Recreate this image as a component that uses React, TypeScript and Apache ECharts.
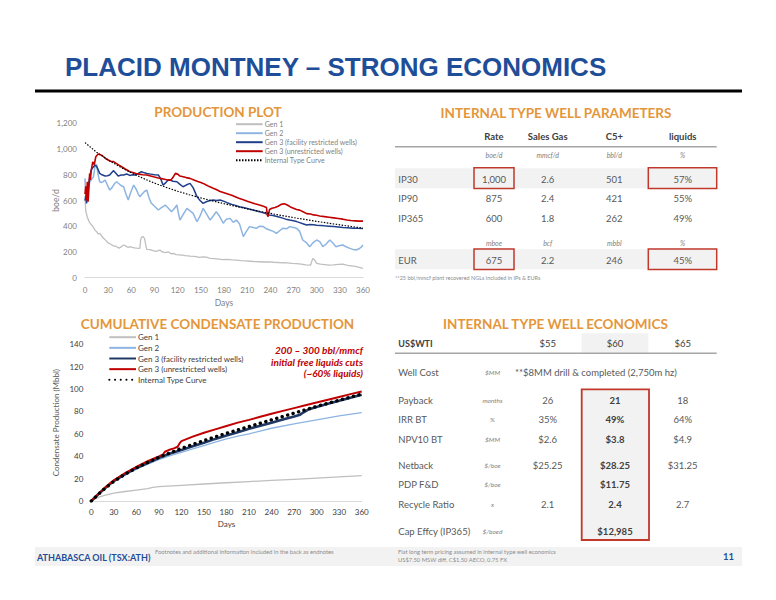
import React, { useEffect, useRef } from "react";
import * as echarts from "echarts";

// ---------- Text ----------
const PAGE_TITLE = "PLACID MONTNEY – STRONG ECONOMICS";
const PROD_TITLE = "PRODUCTION PLOT";
const CUM_TITLE = "CUMULATIVE CONDENSATE PRODUCTION";
const PARAM_TITLE = "INTERNAL TYPE WELL PARAMETERS";
const ECON_TITLE = "INTERNAL TYPE WELL ECONOMICS";

const seriesNames = [
  "Gen 1",
  "Gen 2",
  "Gen 3 (facility restricted wells)",
  "Gen 3 (unrestricted wells)",
  "Internal Type Curve",
];

// ---------- Production plot (boe/d vs days) ----------
const gen1Prod: [number, number][] = [
  [0, 610], [1, 520], [3, 470], [5, 440], [7, 420], [10, 400], [13, 370], [15, 358], [17, 340], [19, 345],
  [21, 330], [24, 306], [27, 290], [30, 270], [33, 262], [36, 250], [39, 245], [41, 241], [44, 230], [47, 240],
  [50, 254], [53, 245], [56, 235], [58, 241], [61, 236], [64, 232], [67, 230], [71, 228], [72, 290], [73, 314],
  [75, 320], [77, 306], [79, 245], [80, 220], [84, 218], [88, 210], [92, 205], [97, 215], [100, 200], [104, 195],
  [108, 200], [112, 185], [114, 189], [118, 180], [122, 178], [126, 175], [130, 172], [136, 168], [142, 165],
  [148, 158], [153, 162], [157, 160], [162, 150], [168, 148], [173, 145], [179, 140], [185, 142], [190, 138],
  [196, 136], [202, 132], [208, 130], [214, 128], [220, 125], [226, 124], [232, 122], [238, 123], [244, 120],
  [250, 118], [256, 116], [262, 115], [268, 112], [274, 110], [280, 105], [286, 100], [292, 97], [295, 150],
  [297, 140], [300, 112], [305, 105], [310, 102], [316, 98], [322, 100], [328, 103], [334, 105], [340, 96],
  [345, 92], [350, 88], [355, 80], [360, 73],
];
const gen2Prod: [number, number][] = [
  [0, 772], [1, 640], [2, 604], [4, 680], [6, 740], [8, 760], [11, 785], [13, 870], [15, 880], [17, 800],
  [19, 746], [22, 740], [26, 759], [29, 720], [32, 681], [35, 700], [38, 730], [41, 746], [44, 730], [47, 715],
  [50, 707], [53, 650], [56, 604], [59, 660], [63, 720], [66, 690], [69, 650], [71, 630], [74, 650], [77, 670],
  [80, 681], [83, 620], [86, 578], [90, 555], [95, 526], [99, 545], [104, 565], [108, 540], [112, 513], [116, 540],
  [119, 565], [121, 500], [123, 448], [127, 490], [132, 539], [136, 520], [140, 500], [145, 435], [149, 480],
  [153, 539], [157, 500], [162, 448], [166, 480], [170, 513], [174, 480], [179, 423], [183, 455], [188, 461],
  [192, 430], [196, 448], [200, 420], [205, 319], [209, 360], [213, 397], [218, 390], [222, 384], [226, 400],
  [231, 397], [235, 380], [239, 371], [244, 360], [248, 345], [252, 365], [256, 384], [261, 380], [265, 397],
  [270, 390], [274, 384], [278, 360], [282, 293], [287, 270], [291, 241], [295, 270], [300, 293], [304, 280],
  [308, 241], [312, 260], [317, 293], [321, 270], [325, 241], [330, 250], [334, 254], [338, 240], [343, 228],
  [347, 220], [351, 215], [355, 225], [358, 240], [360, 254],
];
const gen3FacProd: [number, number][] = [
  [0, 600], [1, 640], [2, 578], [3, 620], [4, 700], [6, 780], [8, 837], [10, 855], [13, 876], [15, 865],
  [17, 840], [19, 811], [22, 800], [26, 790], [29, 792], [32, 798], [35, 820], [37, 832], [40, 812], [43, 790],
  [47, 798], [50, 798], [54, 806], [58, 795], [62, 800], [65, 798], [69, 810], [73, 824], [77, 815], [80, 810],
  [85, 805], [90, 800], [95, 798], [98, 770], [101, 720], [104, 735], [107, 755], [110, 759], [114, 750],
  [119, 746], [123, 725], [127, 707], [131, 720], [136, 733], [140, 700], [145, 630], [149, 600], [153, 578],
  [157, 590], [161, 598], [166, 604], [170, 600], [175, 604], [181, 591], [185, 580], [190, 570], [195, 562],
  [200, 552], [205, 545], [210, 538], [215, 530], [220, 522], [226, 512], [231, 505], [235, 496], [238, 488],
  [242, 485], [246, 480], [250, 474], [255, 465], [260, 455], [265, 448], [270, 442], [274, 436], [278, 428],
  [283, 418], [287, 410], [291, 414], [296, 411], [300, 408], [305, 406], [310, 403], [316, 400], [322, 397],
  [328, 394], [334, 390], [340, 388], [347, 385], [353, 384], [360, 383],
];
const gen3UnrProd: [number, number][] = [
  [0, 650], [1, 710], [2, 600], [3, 745], [4, 590], [5, 690], [6, 810], [7, 760], [8, 830], [10, 900],
  [12, 880], [14, 940], [17, 961], [20, 955], [22, 950], [24, 940], [27, 925], [30, 915], [33, 905], [37, 902],
  [40, 890], [44, 875], [48, 860], [52, 845], [55, 835], [58, 824], [62, 818], [66, 810], [70, 805], [75, 800],
  [80, 798], [85, 790], [90, 782], [95, 775], [99, 770], [103, 765], [107, 760], [111, 758], [114, 780],
  [117, 811], [120, 805], [123, 790], [127, 785], [131, 778], [136, 772], [141, 760], [146, 748], [150, 740],
  [153, 733], [157, 720], [161, 708], [166, 695], [170, 685], [175, 670], [180, 660], [185, 650], [190, 640],
  [196, 625], [200, 615], [205, 605], [210, 595], [215, 585], [220, 575], [226, 565], [231, 555], [235, 545],
  [236, 490], [237, 475], [239, 530], [242, 540], [246, 545], [250, 555], [254, 570], [258, 575], [262, 565],
  [266, 550], [270, 540], [274, 530], [278, 525], [283, 510], [287, 498], [292, 495], [296, 488], [300, 485],
  [304, 480], [310, 475], [316, 470], [322, 465], [328, 460], [334, 455], [339, 448], [344, 444], [350, 442],
  [355, 440], [360, 440],
];
const typeCurveProd: [number, number][] = [
  [0, 1050], [15, 975], [30, 915], [45, 862], [60, 815], [75, 773], [90, 735], [105, 702], [120, 672],
  [135, 645], [150, 620], [165, 597], [180, 575], [195, 555], [210, 535], [225, 517], [240, 500], [255, 483],
  [270, 467], [285, 452], [300, 438], [315, 424], [330, 411], [345, 398], [360, 385],
];

// ---------- Cumulative condensate (Mbbl vs days) ----------
const gen1Cum: [number, number][] = [
  [0, 0], [10, 3.5], [20, 5.5], [30, 7], [45, 8.5], [60, 9.8], [75, 11], [82, 12.2], [90, 12.8], [120, 14],
  [150, 15.2], [180, 16.3], [210, 17.4], [240, 18.4], [270, 19.4], [300, 20.4], [330, 21.5], [360, 22.6],
];
const gen2Cum: [number, number][] = [
  [0, 0], [10, 6.5], [20, 12], [30, 17], [45, 23], [60, 28.5], [75, 33], [90, 37], [105, 40.5], [120, 43.5],
  [135, 46.5], [150, 49.5], [165, 52.5], [180, 55.5], [195, 58], [210, 60], [240, 65], [270, 69], [300, 72.5],
  [330, 76], [360, 79],
];
const gen3FacCum: [number, number][] = [
  [0, 0], [10, 6.5], [20, 12.5], [30, 18], [45, 24], [60, 29.5], [75, 34], [90, 38.5], [105, 42.5], [120, 45.5],
  [135, 49], [150, 52], [165, 55.5], [180, 58.5], [195, 61.5], [210, 64.5], [225, 67.3], [240, 70], [255, 72.8],
  [270, 75.5], [278, 77], [282, 79], [290, 82], [300, 84], [315, 86.8], [330, 89.5], [345, 92.3], [360, 95],
];
const gen3UnrCum: [number, number][] = [
  [0, 0], [10, 6.8], [20, 13], [30, 18.5], [45, 25], [60, 30.5], [75, 35.5], [90, 39.8], [95, 41.3], [98, 44],
  [103, 45.5], [110, 47], [115, 48.5], [118, 52], [120, 53.5], [135, 57.5], [150, 61], [165, 64], [180, 67],
  [195, 70], [210, 72.5], [225, 75.3], [240, 78], [255, 80.5], [270, 83], [285, 85.5], [300, 88], [315, 90.5],
  [330, 93], [345, 95.5], [360, 97.8],
];
const typeCurveCum: [number, number][] = [
  [0, 0], [15, 9.5], [30, 17.5], [45, 24], [60, 29.5], [75, 34.5], [90, 39], [105, 43], [120, 47], [135, 50.5],
  [150, 54], [165, 57.3], [180, 60.5], [195, 63.5], [210, 66.5], [225, 69.5], [240, 72.5], [255, 75.5],
  [270, 78.5], [285, 81.5], [300, 84.5], [315, 87.3], [330, 90], [345, 92.8], [360, 95.5],
];
const cumNote = ["200 – 300 bbl/mmcf", "initial free liquids cuts", "(~60% liquids)"];

// ---------- Type well parameters table ----------
const paramHeaders = ["Rate", "Sales Gas", "C5+", "liquids"];
const paramUnitsIP = ["boe/d", "mmcf/d", "bbl/d", "%"];
const paramRows = [
  ["IP30", "1,000", "2.6", "501", "57%"],
  ["IP90", "875", "2.4", "421", "55%"],
  ["IP365", "600", "1.8", "262", "49%"],
];
const paramUnitsEUR = ["mboe", "bcf", "mbbl", "%"];
const paramEUR = ["EUR", "675", "2.2", "246", "45%"];
const paramFootnote = "**25 bbl/mmcf plant recovered NGLs included in IPs & EURs";

// ---------- Type well economics table ----------
const econHeaderLabel = "US$WTI";
const econPrices = ["$55", "$60", "$65"];
const wellCost = ["Well Cost", "$MM", "**$8MM drill & completed (2,750m hz)"];
const econRows = [
  ["Payback", "months", "26", "21", "18"],
  ["IRR BT", "%", "35%", "49%", "64%"],
  ["NPV10 BT", "$MM", "$2.6", "$3.8", "$4.9"],
  ["Netback", "$/boe", "$25.25", "$28.25", "$31.25"],
  ["PDP F&D", "$/boe", "", "$11.75", ""],
  ["Recycle Ratio", "x", "2.1", "2.4", "2.7"],
  ["Cap Effcy (IP365)", "$/boed", "", "$12,985", ""],
];

// ---------- Footer ----------
const footerCompany = "ATHABASCA OIL (TSX:ATH)";
const footerNote = "Footnotes and additional information included in the back as endnotes";
const footerPricing = [
  "Flat long term pricing assumed in internal type well economics",
  "US$7.50 MSW diff, C$1.50 AECO, 0.75 FX",
];
const pageNumber = "11";

const FONT = "Lato, 'Open Sans', 'Noto Sans', sans-serif";
const ORANGE = "#E4963A";
const NAVY = "#1F4E99";
const RED = "#C0392B";
const BAND = "#F2F2F2";

function buildGraphics() {
  const g: any[] = [];
  const txt = (x: number, y: number, text: string, st: any = {}) =>
    g.push({
      type: "text",
      x,
      y,
      silent: true,
      z: 20,
      style: {
        text,
        fontFamily: FONT,
        fontSize: 9.5,
        fill: "#595959",
        align: "left",
        verticalAlign: "middle",
        ...st,
      },
    });
  const rect = (x: number, y: number, w: number, h: number, st: any, z = 5) =>
    g.push({ type: "rect", silent: true, z, shape: { x, y, width: w, height: h }, style: st });
  const line = (x1: number, y1: number, x2: number, y2: number, st: any) =>
    g.push({ type: "line", silent: true, z: 6, shape: { x1, y1, x2, y2 }, style: st });

  // Page title and rule
  txt(65, 67, PAGE_TITLE, {
    fontFamily: "'Liberation Sans', Arial, sans-serif",
    fontSize: 26,
    fontWeight: "bold",
    fill: NAVY,
  });
  line(35, 91, 742, 91, { stroke: "#000", lineWidth: 3 });

  // Section titles
  const secTitle = { fontSize: 13.5, fontWeight: "bold", fill: ORANGE, align: "center" };
  txt(218, 112, PROD_TITLE, secTitle);
  txt(217.5, 324, CUM_TITLE, secTitle);
  txt(556, 112.5, PARAM_TITLE, secTitle);
  txt(555.5, 324, ECON_TITLE, secTitle);

  // Cumulative note
  cumNote.forEach((t, i) =>
    txt(363, 350 + i * 11.6, t, {
      fontSize: 10,
      fontWeight: "bold",
      fontStyle: "italic",
      fill: "#C00000",
      align: "right",
    })
  );

  // ---- Parameters table ----
  const pCols = [494, 547.7, 614.3, 682.7];
  paramHeaders.forEach((h, i) =>
    txt(pCols[i], 136.7, h, { fontWeight: "bold", fill: "#404040", fontSize: 9.5, align: "center" })
  );
  line(395, 146.7, 716.7, 146.7, { stroke: "#A6A6A6", lineWidth: 1.5 });
  const unitSt = { fontSize: 7, fontStyle: "italic", fill: "#7F7F7F", align: "center" };
  paramUnitsIP.forEach((u, i) => txt(pCols[i], 155, u, unitSt));
  rect(395, 168.3, 321.7, 20, { fill: BAND });
  const rowYs = [179, 198.7, 218.3];
  paramRows.forEach((r, ri) => {
    txt(398.3, rowYs[ri], r[0], { fontSize: 9.5 });
    r.slice(1).forEach((v, i) => txt(pCols[i], rowYs[ri], v, { fontSize: 9.5, align: "center" }));
  });
  paramUnitsEUR.forEach((u, i) => txt(pCols[i], 242.7, u, unitSt));
  rect(395, 249.3, 321.7, 20, { fill: BAND });
  txt(398.3, 260, paramEUR[0], { fontSize: 9.5 });
  paramEUR.slice(1).forEach((v, i) => txt(pCols[i], 260, v, { fontSize: 9.5, align: "center" }));
  const boxSt = { fill: "none", stroke: RED, lineWidth: 1.5 };
  rect(474, 167.8, 40, 20.6, boxSt, 8);
  rect(648.3, 167.8, 68.4, 20.6, boxSt, 8);
  rect(474, 248.9, 40, 20.6, boxSt, 8);
  rect(648.3, 248.9, 68.4, 20.6, boxSt, 8);
  txt(395, 277.7, paramFootnote, { fontSize: 5.5, fill: "#8C8C8C" });

  // ---- Economics table ----
  const eCols = [547.7, 615, 682.7];
  const unitX = 492.5;
  rect(581.7, 333.3, 66.6, 19.4, { fill: BAND });
  txt(398.3, 343.3, econHeaderLabel, { fontWeight: "bold", fill: "#404040", fontSize: 9 });
  econPrices.forEach((p, i) => txt(eCols[i], 343.3, p, { fill: "#404040", fontSize: 9.5, align: "center" }));
  line(395, 353.3, 716.7, 353.3, { stroke: "#A6A6A6", lineWidth: 1.5 });
  txt(398.3, 372.3, wellCost[0], { fontSize: 9.5 });
  txt(unitX, 372.3, wellCost[1], { ...unitSt, fontSize: 6.5 });
  txt(515, 372.3, wellCost[2], { fontSize: 9.5 });
  rect(581.7, 389.3, 67.3, 150.7, { fill: BAND, stroke: RED, lineWidth: 1.8 });
  const eYs = [400, 419.3, 439, 465.7, 484.7, 504.3, 531];
  econRows.forEach((r, ri) => {
    const y = eYs[ri];
    txt(398.3, y, r[0], { fontSize: 9.5 });
    txt(unitX, y, r[1], { ...unitSt, fontSize: 6.5 });
    txt(eCols[0], y, r[2], { fontSize: 9.5, align: "center" });
    txt(eCols[1], y, r[3], { fontSize: 9.5, align: "center", fontWeight: "bold", fill: "#404040" });
    txt(eCols[2], y, r[4], { fontSize: 9.5, align: "center" });
  });

  // ---- Footer ----
  rect(35, 547, 707, 19, { fill: BAND }, 1);
  txt(37, 557, footerCompany, { fontSize: 9, fontWeight: "bold", fill: NAVY });
  txt(155, 551.5, footerNote, { fontSize: 5.8, fill: "#8C8C8C" });
  txt(398, 551.5, footerPricing[0], { fontSize: 5.8, fill: "#8C8C8C" });
  txt(398, 559, footerPricing[1], { fontSize: 5.8, fill: "#8C8C8C" });
  txt(734, 556, pageNumber, { fontSize: 9.5, fontWeight: "bold", fill: NAVY, align: "right" });

  return g;
}

function lineSeries(name: string, data: [number, number][], idx: number, color: string, width: number, type: any = "solid", extra: any = {}) {
  return {
    type: "line",
    name,
    data,
    xAxisIndex: idx,
    yAxisIndex: idx,
    symbol: "none",
    showSymbol: false,
    smooth: false,
    lineStyle: { color, width, type, ...extra },
    itemStyle: { color },
    emphasis: { disabled: true },
  };
}

function buildOption() {
  const S = " "; // suffix to keep cumulative series distinct from production series
  const prodLabel = { color: "#7F7F7F", fontSize: 8, fontFamily: FONT };
  const cumLabel = { color: "#404040", fontSize: 8, fontFamily: FONT };
  return {
    animation: false,
    backgroundColor: "#ffffff",
    textStyle: { fontFamily: FONT },
    grid: [
      { left: 85, top: 123.3, width: 278, height: 154.4 },
      { left: 91.3, top: 344.3, width: 270.4, height: 156.7 },
    ],
    xAxis: [
      {
        gridIndex: 0, type: "value", min: 0, max: 360, interval: 30,
        axisLine: { lineStyle: { color: "#D9D9D9" } }, axisTick: { show: false }, splitLine: { show: false },
        axisLabel: { ...prodLabel, margin: 8 },
        name: "Days", nameLocation: "middle", nameGap: 21,
        nameTextStyle: { color: "#7F7F7F", fontSize: 8.5, fontFamily: FONT },
      },
      {
        gridIndex: 1, type: "value", min: 0, max: 360, interval: 30,
        axisLine: { lineStyle: { color: "#D9D9D9" } }, axisTick: { show: false }, splitLine: { show: false },
        axisLabel: { ...cumLabel, margin: 7 },
        name: "Days", nameLocation: "middle", nameGap: 19,
        nameTextStyle: { color: "#404040", fontSize: 8, fontFamily: FONT },
      },
    ],
    yAxis: [
      {
        gridIndex: 0, type: "value", min: 0, max: 1200, interval: 200,
        axisLine: { show: false }, axisTick: { show: false }, splitLine: { show: false },
        axisLabel: { ...prodLabel, margin: 8, formatter: (v: number) => v.toLocaleString("en-US") },
        name: "boe/d", nameLocation: "middle", nameGap: 25, nameMoveOverlap: false,
        nameTextStyle: { color: "#7F7F7F", fontSize: 8.5, fontFamily: FONT },
      },
      {
        gridIndex: 1, type: "value", min: 0, max: 140, interval: 20,
        axisLine: { show: false }, axisTick: { show: false }, splitLine: { show: false },
        axisLabel: { ...cumLabel, margin: 8 },
        name: "Condensate Production (Mbbl)", nameLocation: "middle", nameGap: 31,
        nameTextStyle: { color: "#595959", fontSize: 8, fontFamily: FONT },
      },
    ],
    legend: [
      {
        orient: "vertical", left: 235, top: 120.7, padding: 0,
        itemWidth: 26.7, itemHeight: 6, itemGap: 2,
        selectedMode: false,
        itemStyle: { opacity: 0 },
        data: seriesNames,
        textStyle: { color: "#7F7F7F", fontSize: 7, fontFamily: FONT, padding: [0, 0, 0, -3] },
      },
      {
        orient: "vertical", left: 108.3, top: 333.2, padding: 0,
        itemWidth: 26.7, itemHeight: 9, itemGap: 2.65,
        selectedMode: false,
        itemStyle: { opacity: 0 },
        data: seriesNames.map((n) => n + S),
        formatter: (n: string) => n.trim(),
        textStyle: { color: "#404040", fontSize: 8, fontFamily: FONT, padding: [0, 0, 0, -3] },
      },
    ],
    series: [
      lineSeries(seriesNames[0], gen1Prod, 0, "#BFBFBF", 1.3),
      lineSeries(seriesNames[1], gen2Prod, 0, "#8DB4E2", 1.5),
      lineSeries(seriesNames[2], gen3FacProd, 0, "#203F8A", 1.5),
      lineSeries(seriesNames[3], gen3UnrProd, 0, "#C00000", 1.6),
      lineSeries(seriesNames[4], typeCurveProd, 0, "#000000", 1.2, [1.5, 1.5]),
      lineSeries(seriesNames[0] + S, gen1Cum, 1, "#BFBFBF", 1.3),
      lineSeries(seriesNames[1] + S, gen2Cum, 1, "#8DB4E2", 1.3),
      lineSeries(seriesNames[2] + S, gen3FacCum, 1, "#1F3864", 2.6),
      lineSeries(seriesNames[3] + S, gen3UnrCum, 1, "#C00000", 2),
      lineSeries(seriesNames[4] + S, typeCurveCum, 1, "#000000", 3.4, [0.1, 5.6], { cap: "round" }),
    ],
    graphic: { elements: buildGraphics() },
  };
}

export default function App() {
  const ref = useRef<HTMLDivElement>(null);
  useEffect(() => {
    if (!ref.current) return;
    const chart = echarts.init(ref.current, undefined, { renderer: "svg" });
    chart.setOption(buildOption() as any);
    return () => chart.dispose();
  }, []);
  return (
    <div
      ref={ref}
      style={{ position: "fixed", left: 0, top: 0, width: 776, height: 600, background: "#ffffff" }}
    />
  );
}
